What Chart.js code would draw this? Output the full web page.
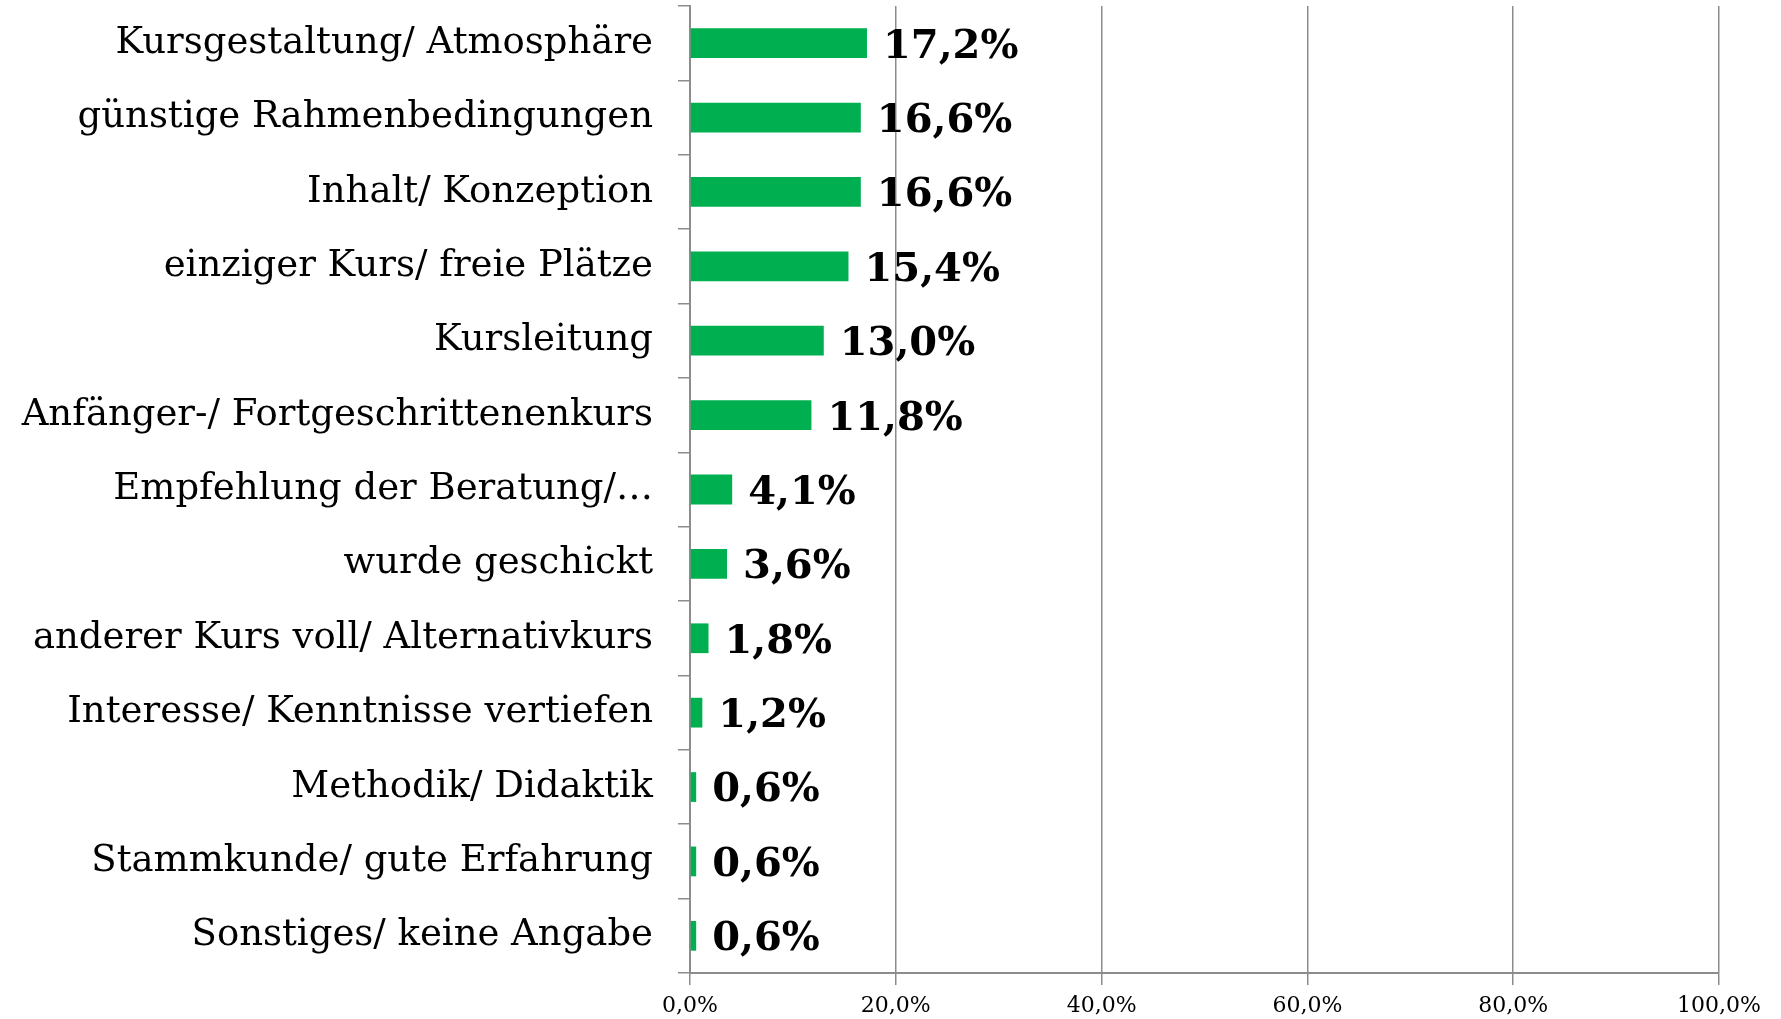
<!DOCTYPE html>
<html>
<head>
<meta charset="utf-8">
<script src="https://cdn.jsdelivr.net/npm/chart.js@4/dist/chart.umd.min.js"></script>
<style>
html,body{margin:0;padding:0;background:#fff;}
#wrap{width:1781px;height:1019px;position:relative;}
</style>
</head>
<body>
<div id="wrap"><canvas id="c" width="1781" height="1019"></canvas></div>
<script>
const categories = [
  "Kursgestaltung/ Atmosphäre",
  "günstige Rahmenbedingungen",
  "Inhalt/ Konzeption",
  "einziger Kurs/ freie Plätze",
  "Kursleitung",
  "Anfänger-/ Fortgeschrittenenkurs",
  "Empfehlung der Beratung/…",
  "wurde geschickt",
  "anderer Kurs voll/ Alternativkurs",
  "Interesse/ Kenntnisse vertiefen",
  "Methodik/ Didaktik",
  "Stammkunde/ gute Erfahrung",
  "Sonstiges/ keine Angabe"
];
const values = [17.2, 16.6, 16.6, 15.4, 13.0, 11.8, 4.1, 3.6, 1.8, 1.2, 0.6, 0.6, 0.6];
const xTicks = [0, 20, 40, 60, 80, 100];

const fmt = v => v.toFixed(1).replace('.', ',') + '%';

const valueLabels = {
  id: 'valueLabels',
  afterDatasetsDraw(chart) {
    const ctx = chart.ctx;
    const meta = chart.getDatasetMeta(0);
    ctx.save();
    ctx.font = 'bold 40px "DejaVu Serif"';
    ctx.fillStyle = '#000';
    ctx.textAlign = 'left';
    ctx.textBaseline = 'middle';
    meta.data.forEach((el, i) => {
      ctx.fillText(fmt(values[i]), el.x + 16, el.y + 4);
    });
    ctx.restore();
  }
};

new Chart(document.getElementById('c'), {
  type: 'bar',
  data: {
    labels: categories,
    datasets: [{
      data: values,
      backgroundColor: '#00B050',
      borderWidth: 0,
      barPercentage: 0.4,
      categoryPercentage: 1.0
    }]
  },
  options: {
    indexAxis: 'y',
    responsive: false,
    animation: false,
    layout: { padding: { top: 6, right: 62, bottom: 0, left: 0 } },
    plugins: { legend: { display: false }, tooltip: { enabled: false } },
    scales: {
      x: {
        min: 0, max: 100,
        afterBuildTicks: s => { s.ticks = xTicks.map(v => ({ value: v })); },
        afterFit: s => { s.height = 46; },
        ticks: {
          callback: v => fmt(v),
          color: '#000',
          font: { family: '"DejaVu Serif"', size: 22 },
          padding: 8,
          maxRotation: 0
        },
        grid: { color: '#8c8c8c', lineWidth: 1.5, tickLength: 12, drawTicks: true },
        border: { color: '#8c8c8c', width: 2 }
      },
      y: {
        afterFit: s => { s.width = 690; s.paddingTop = 0; s.paddingBottom = 0; },
        ticks: {
          color: '#000',
          font: { family: '"DejaVu Serif"', size: 37 },
          padding: 25,
          autoSkip: false
        },
        grid: { drawOnChartArea: false, drawTicks: true, tickLength: 12, color: '#8c8c8c', lineWidth: 1.5, offset: true },
        border: { color: '#8c8c8c', width: 2 }
      }
    }
  },
  plugins: [valueLabels]
});
</script>
</body>
</html>
